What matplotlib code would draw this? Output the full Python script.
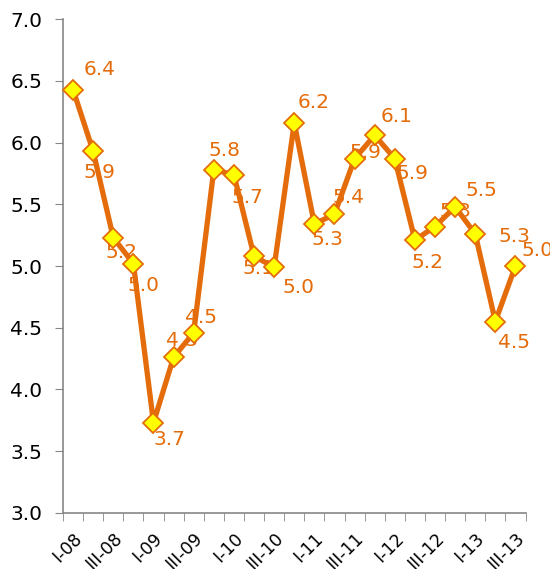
import numpy as np
import matplotlib
matplotlib.use('Agg')
import matplotlib.pyplot as plt

# quarters I-08 .. III-13
quarters = ['I-08', 'II-08', 'III-08', 'IV-08',
            'I-09', 'II-09', 'III-09', 'IV-09',
            'I-10', 'II-10', 'III-10', 'IV-10',
            'I-11', 'II-11', 'III-11', 'IV-11',
            'I-12', 'II-12', 'III-12', 'IV-12',
            'I-13', 'II-13', 'III-13']
values = [6.43, 5.93, 5.23, 5.02, 3.73, 4.26, 4.46, 5.78, 5.74, 5.08, 4.99, 6.16,
          5.34, 5.42, 5.87, 6.06, 5.87, 5.21, 5.32, 5.48, 5.26, 4.55, 5.0]
y_ticks = [3.0, 3.5, 4.0, 4.5, 5.0, 5.5, 6.0, 6.5, 7.0]

# label offsets in pixels (dx, dy down)
label_off = [(27, -20), (6, 21), (8, 15), (10, 22), (16, 17), (8, -17), (7, -15),
             (11, -19), (14, 23), (4, 12), (24, 20), (19, -20), (13, 15), (14, -17),
             (11, -6), (22, -19), (18, 15), (13, 22), (20, -15), (26, -16), (39, 3),
             (19, 21), (22, -15)]

orange = '#E46C0A'
grey = '#868686'

fig = plt.figure(figsize=(5.5, 5.69), dpi=100)
ax = fig.add_axes([63/550, (569-512.7)/569, (525.5-63)/550, (512.7-19.3)/569])

x = np.arange(len(values))
ax.plot(x, values, color=orange, lw=3.8, marker='D', ms=10,
        mfc='#FFFF00', mec=orange, mew=1.3, zorder=3, clip_on=False)

for i, v in enumerate(values):
    dx, dy = label_off[i]
    ax.annotate(f'{v:.1f}', (i, v), xytext=(dx, -dy), textcoords='offset pixels',
                ha='center', va='center', color=orange, fontsize=14.5,
                zorder=2, annotation_clip=False)

ax.set_xlim(-0.5, len(values) - 0.5)
ax.set_ylim(3.0, 7.0)
ax.set_yticks(y_ticks)
ax.set_yticklabels([f'{t:.1f}' for t in y_ticks], fontsize=14.5)

ax.set_xticks(np.arange(-0.5, len(values)), minor=True)
ax.set_xticks(x[::2])
ax.set_xticklabels(quarters[::2], rotation=45, ha='right', rotation_mode='anchor',
                   fontsize=12.5)
ax.tick_params(axis='x', which='major', length=0, pad=12)
ax.tick_params(axis='x', which='minor', length=6, color=grey, direction='out')
ax.tick_params(axis='y', length=6, color=grey, direction='out', pad=9)

for s in ['top', 'right']:
    ax.spines[s].set_visible(False)
for s in ['left', 'bottom']:
    ax.spines[s].set_color(grey)
    ax.spines[s].set_linewidth(1.2)

fig.savefig('out.png', dpi=100)
